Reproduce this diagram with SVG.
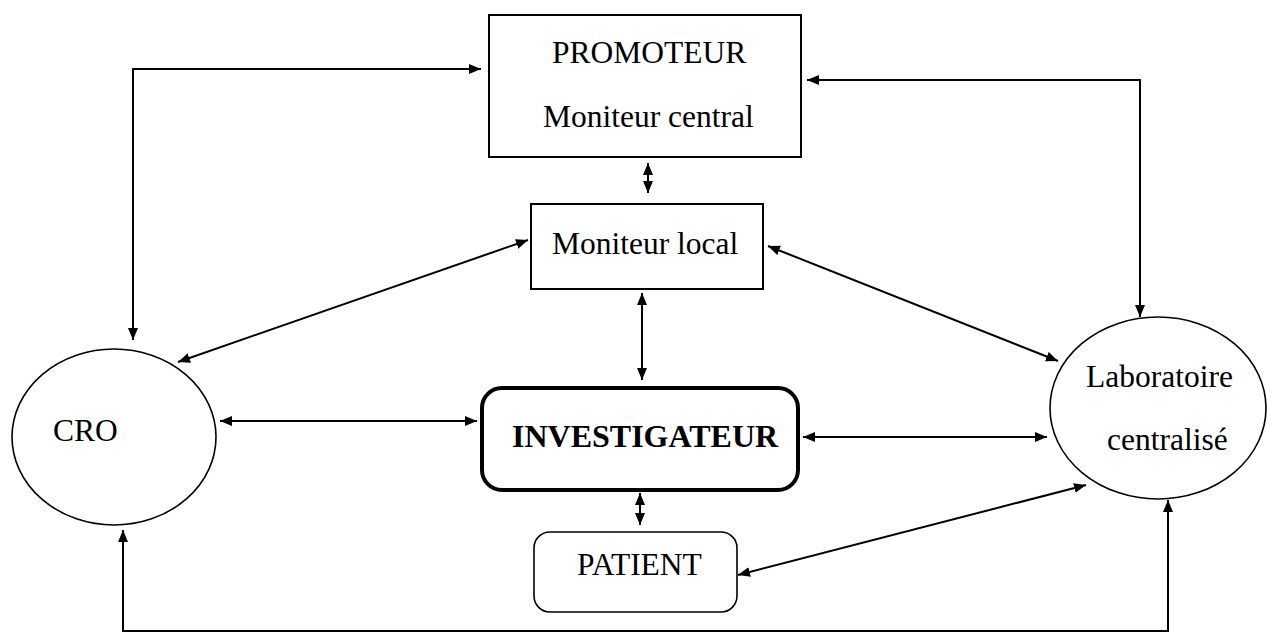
<svg xmlns="http://www.w3.org/2000/svg" width="1267" height="643" viewBox="0 0 1267 643">
  <style>
    .box { fill: #fff; stroke: #000; stroke-width: 2; }
    .lbl { font-family: "Liberation Serif", "Times New Roman", serif; font-size: 31.5px; fill: #000; }
    .bold { font-weight: bold; font-size: 32px; }
    .conn { fill: none; stroke: #000; stroke-width: 2; marker-start: url(#ah); marker-end: url(#ah); }
  </style>
  <defs>
    <marker id="ah" markerUnits="userSpaceOnUse" markerWidth="13" markerHeight="11" refX="12" refY="5.5" orient="auto-start-reverse">
      <path d="M0,0.5 L12,5.5 L0,10.5 z" fill="#000"/>
    </marker>
  </defs>
  <rect width="1267" height="643" fill="#fff"/>

  <g id="connectors">
    <path class="conn" d="M133,340 V69 H481"/>
    <path class="conn" d="M807,80 H1140 V317"/>
    <path class="conn" d="M648,163 V193"/>
    <path class="conn" d="M528,240 L178,362"/>
    <path class="conn" d="M768,246 L1058,361"/>
    <path class="conn" d="M642,293 V380"/>
    <path class="conn" d="M220,421 H477"/>
    <path class="conn" d="M803,437 H1047"/>
    <path class="conn" d="M640,493 V525"/>
    <path class="conn" d="M738,575 L1086,485"/>
    <path class="conn" d="M123,530 V631 H1168 V500"/>
  </g>

  <g id="promoteur">
    <rect class="box" x="489" y="15" width="312" height="142"/>
    <text class="lbl" x="552" y="63">PROMOTEUR</text>
    <text class="lbl" x="543" y="127">Moniteur central</text>
  </g>

  <g id="moniteur-local">
    <rect class="box" x="531" y="204" width="232" height="85"/>
    <text class="lbl" x="552" y="254">Moniteur local</text>
  </g>

  <g id="investigateur">
    <rect class="box" x="482" y="388" width="316" height="102" rx="20" ry="20" style="stroke-width:4"/>
    <text class="lbl bold" x="512" y="447">INVESTIGATEUR</text>
  </g>

  <g id="patient">
    <rect class="box" x="534" y="532" width="203" height="80" rx="16" ry="16" style="stroke-width:1.6"/>
    <text class="lbl" x="577" y="575">PATIENT</text>
  </g>

  <g id="cro">
    <ellipse class="box" cx="114" cy="437" rx="102" ry="88" style="stroke-width:1.6"/>
    <text class="lbl" x="53" y="441">CRO</text>
  </g>

  <g id="laboratoire">
    <ellipse class="box" cx="1158" cy="408" rx="108" ry="91" style="stroke-width:1.6"/>
    <text class="lbl" x="1086" y="387">Laboratoire</text>
    <text class="lbl" x="1107" y="450">centralisé</text>
  </g>
</svg>
